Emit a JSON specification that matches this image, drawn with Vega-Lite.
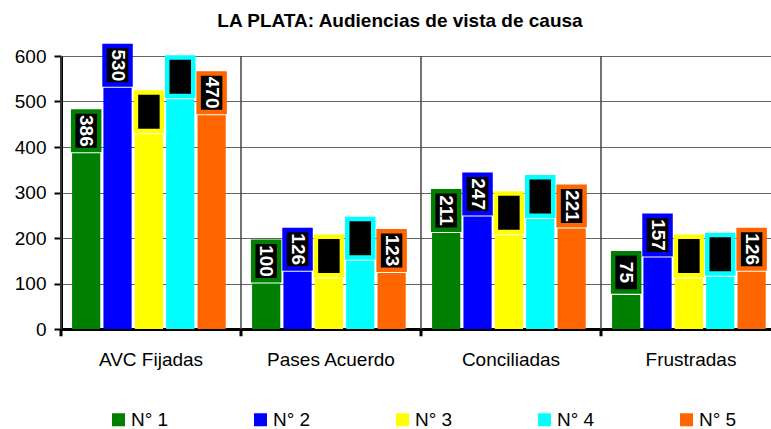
{
  "$schema": "https://vega.github.io/schema/vega-lite/v6.json",
  "width": 710,
  "height": 273,
  "autosize": "none",
  "padding": {"left": 61, "top": 56, "right": 0, "bottom": 100},
  "background": "white",
  "title": {"text": "LA PLATA: Audiencias de vista de causa", "font": "Liberation Sans", "fontSize": 19, "fontWeight": "bold", "color": "black", "anchor": "middle", "dx": -16, "offset": 6},
  "config": {
    "view": {"stroke": null},
    "axisX": {"grid": false, "ticks": false, "domainColor": "black", "domainWidth": 3, "labelFontSize": 19, "labelFont": "Liberation Sans", "labelColor": "black", "labelPadding": 21, "labelAngle": 0, "zindex": 1},
    "axisY": {"grid": true, "gridColor": "#666666", "gridWidth": 1, "domainColor": "black", "domainWidth": 3, "tickColor": "black", "tickWidth": 2, "tickSize": 7, "labelFontSize": 19, "labelFont": "Liberation Sans", "labelColor": "black", "labelPadding": 8, "zindex": 1}
  },
  "data": {"values": [
    {"cat": "AVC Fijadas", "serie": "N° 1", "value": 386},
    {"cat": "AVC Fijadas", "serie": "N° 2", "value": 530},
    {"cat": "AVC Fijadas", "serie": "N° 3", "value": 428},
    {"cat": "AVC Fijadas", "serie": "N° 4", "value": 505},
    {"cat": "AVC Fijadas", "serie": "N° 5", "value": 470},
    {"cat": "Pases Acuerdo", "serie": "N° 1", "value": 100},
    {"cat": "Pases Acuerdo", "serie": "N° 2", "value": 126},
    {"cat": "Pases Acuerdo", "serie": "N° 3", "value": 111},
    {"cat": "Pases Acuerdo", "serie": "N° 4", "value": 150},
    {"cat": "Pases Acuerdo", "serie": "N° 5", "value": 123},
    {"cat": "Conciliadas", "serie": "N° 1", "value": 211},
    {"cat": "Conciliadas", "serie": "N° 2", "value": 247},
    {"cat": "Conciliadas", "serie": "N° 3", "value": 206},
    {"cat": "Conciliadas", "serie": "N° 4", "value": 242},
    {"cat": "Conciliadas", "serie": "N° 5", "value": 221},
    {"cat": "Frustradas", "serie": "N° 1", "value": 75},
    {"cat": "Frustradas", "serie": "N° 2", "value": 157},
    {"cat": "Frustradas", "serie": "N° 3", "value": 111},
    {"cat": "Frustradas", "serie": "N° 4", "value": 115},
    {"cat": "Frustradas", "serie": "N° 5", "value": 126}
  ]},
  "layer": [
    {
      "transform": [{"filter": "datum.serie === 'N° 1'"}],
      "mark": {"type": "rule", "color": "#444444", "strokeWidth": 1.5},
      "encoding": {
        "x": {"field": "cat", "type": "nominal", "sort": ["AVC Fijadas", "Pases Acuerdo", "Conciliadas", "Frustradas"], "bandPosition": 0, "title": null, "scale": {"range": [0, 720], "paddingInner": 0, "paddingOuter": 0}},
        "y": {"datum": 0, "type": "quantitative"},
        "y2": {"datum": 600}
      }
    },
    {
      "transform": [{"filter": "datum.serie === 'N° 1'"}],
      "mark": {"type": "rule", "color": "black", "strokeWidth": 3},
      "encoding": {
        "x": {"field": "cat", "type": "nominal", "sort": ["AVC Fijadas", "Pases Acuerdo", "Conciliadas", "Frustradas"], "bandPosition": 0, "title": null},
        "y": {"datum": 0, "type": "quantitative"},
        "y2": {"datum": -16}
      }
    },
    {
      "mark": {"type": "bar"},
      "encoding": {
        "x": {"field": "cat", "type": "nominal", "sort": ["AVC Fijadas", "Pases Acuerdo", "Conciliadas", "Frustradas"], "title": null},
        "xOffset": {"field": "serie", "type": "nominal", "scale": {"paddingInner": 0.1, "paddingOuter": 0.42, "align": 0.42}},
        "y": {"field": "value", "type": "quantitative", "title": null, "scale": {"domain": [0, 600]}, "axis": {"values": [0, 100, 200, 300, 400, 500, 600]}},
        "color": {"field": "serie", "type": "nominal", "scale": {"domain": ["N° 1", "N° 2", "N° 3", "N° 4", "N° 5"], "range": ["#008000", "#0000FF", "#FFFF00", "#00FFFF", "#FF6600"]},
          "legend": {"title": null, "orient": "none", "legendX": 48, "legendY": 354, "direction": "horizontal", "columns": 5, "symbolType": "square", "symbolSize": 169, "symbolStrokeWidth": 0, "symbolOpacity": 1, "labelFontSize": 19, "labelFont": "Liberation Sans", "labelColor": "black", "labelOffset": 3, "columnPadding": 82}}
      }
    },
    {
      "mark": {"type": "point", "shape": "M-0.675,-1H0.675V1H-0.675Z", "size": 1482, "filled": false, "fill": "black", "fillOpacity": 1, "strokeWidth": 4.5, "opacity": 1, "yOffset": -22.5},
      "encoding": {
        "x": {"field": "cat", "type": "nominal", "sort": ["AVC Fijadas", "Pases Acuerdo", "Conciliadas", "Frustradas"], "title": null},
        "xOffset": {"field": "serie", "type": "nominal"},
        "y": {"field": "value", "type": "quantitative"},
        "stroke": {"field": "serie", "type": "nominal", "scale": {"domain": ["N° 1", "N° 2", "N° 3", "N° 4", "N° 5"], "range": ["#008000", "#0000FF", "#FFFF00", "#00FFFF", "#FF6600"]}, "legend": null}
      }
    },
    {
      "mark": {"type": "text", "angle": 90, "align": "center", "baseline": "middle", "font": "Liberation Sans", "fontSize": 19, "fontWeight": "bold", "yOffset": -22.5},
      "encoding": {
        "x": {"field": "cat", "type": "nominal", "sort": ["AVC Fijadas", "Pases Acuerdo", "Conciliadas", "Frustradas"], "title": null},
        "xOffset": {"field": "serie", "type": "nominal"},
        "y": {"field": "value", "type": "quantitative"},
        "text": {"field": "value", "type": "quantitative"},
        "color": {"condition": {"test": "datum.serie === 'N° 3' || datum.serie === 'N° 4'", "value": "black"}, "value": "white"}
      }
    }
  ]
}
